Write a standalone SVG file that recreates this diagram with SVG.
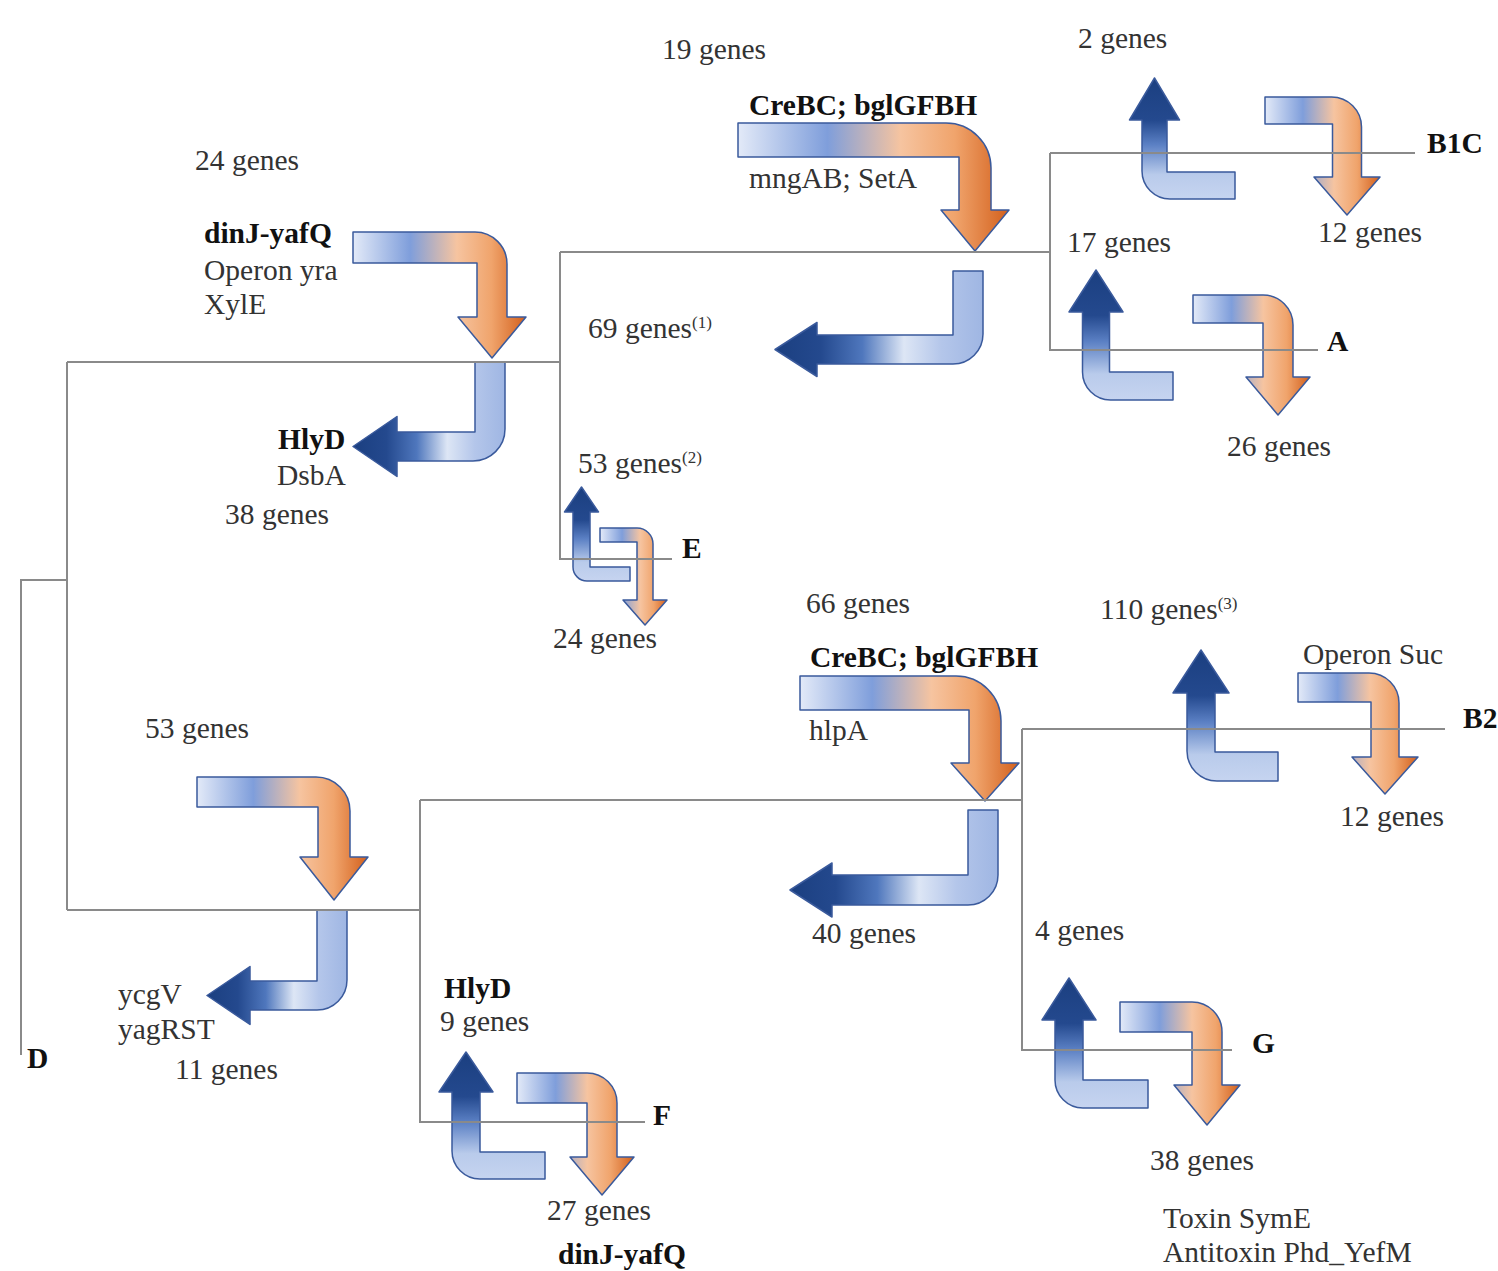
<svg xmlns="http://www.w3.org/2000/svg" width="1498" height="1271" viewBox="0 0 1498 1271">
<defs>
<linearGradient id="gGain" x1="0" y1="0" x2="1" y2="0">
<stop offset="0" stop-color="#e3eaf8"/>
<stop offset="0.33" stop-color="#7f9edb"/>
<stop offset="0.6" stop-color="#f6c4a0"/>
<stop offset="0.8" stop-color="#f0a46c"/>
<stop offset="1" stop-color="#d3601c"/>
</linearGradient>
<linearGradient id="gLoss" x1="0" y1="0" x2="1" y2="0">
<stop offset="0" stop-color="#1b3f80"/>
<stop offset="0.22" stop-color="#24498e"/>
<stop offset="0.42" stop-color="#4f77bd"/>
<stop offset="0.62" stop-color="#dde6f5"/>
<stop offset="0.8" stop-color="#b4c6ea"/>
<stop offset="1" stop-color="#9fb6e3"/>
</linearGradient>
<linearGradient id="gUp" x1="0" y1="0" x2="0" y2="1">
<stop offset="0" stop-color="#1b3f80"/>
<stop offset="0.35" stop-color="#24498e"/>
<stop offset="0.55" stop-color="#5b80c4"/>
<stop offset="0.8" stop-color="#b9cbeb"/>
<stop offset="1" stop-color="#c6d4f0"/>
</linearGradient>
</defs>
<style>
.gain{fill:url(#gGain);stroke:#3a5a9c;stroke-width:1.5;stroke-linejoin:round}
.loss{fill:url(#gLoss);stroke:#3a5a9c;stroke-width:1.5;stroke-linejoin:round}
.up{fill:url(#gUp);stroke:#3a5a9c;stroke-width:1.5;stroke-linejoin:round}
.br{fill:none;stroke:#8a8a8a;stroke-width:2}
text{font-family:"Liberation Serif","Times New Roman",serif;font-size:29.5px;fill:#333}
.b{font-weight:bold;fill:#111}
.sup{font-size:17px}
</style>
<rect width="1498" height="1271" fill="#ffffff"/>

<g id="arrows">
<g id="gain-dinJ"><path class="gain" d="M353 232 H475 A32 32 0 0 1 507 264 V317 H526 L492 358 L458 317 H477 V263 H353 Z"/></g>
<g id="loss-HlyD"><path class="loss" d="M475 362 H505 V429 A32 32 0 0 1 473 461 H397 V476.5 L353 446.5 L397 416.5 V432 H475 Z"/></g>
<g id="gain-CreBC1"><path class="gain" d="M738 123 H946 A45 45 0 0 1 991 168 V210 H1009 L975 251 L941 210 H959 V157 H738 Z"/></g>
<g id="loss-69"><path class="loss" d="M953 271 H983 V334 A30 30 0 0 1 953 364 H817 V376.5 L775 349.5 L817 322.5 V335 H953 Z"/></g>
<g id="up-B1C"><path class="up" d="M1235 172 V199 H1170 A28 28 0 0 1 1142 171 V120 H1129.5 L1154.5 78 L1179.5 120 H1167 V172 Z"/></g>
<g id="gain-B1C"><path class="gain" d="M1265 97 H1331.5 A30 30 0 0 1 1361.5 127 V177 H1380 L1347 215 L1314 177 H1332.5 V124 H1265 Z"/></g>
<g id="up-A"><path class="up" d="M1173 372 V400 H1110.5 A28 28 0 0 1 1082.5 372 V312 H1069 L1096 270 L1123 312 H1109.5 V372 Z"/></g>
<g id="gain-A"><path class="gain" d="M1193 295 H1263 A30 30 0 0 1 1293 325 V377 H1310 L1278 415 L1246 377 H1263 V323 H1193 Z"/></g>
<g id="up-E"><path class="up" d="M630 567 V581 H587 A14 14 0 0 1 573 567 V512 H564.5 L581.5 487 L598.5 512 H590 V567 Z"/></g>
<g id="gain-E"><path class="gain" d="M600 528 H637 A16 16 0 0 1 653 544 V600 H667 L645 625 L623 600 H637 V542 H600 Z"/></g>
<g id="gain-CreBC2"><path class="gain" d="M800 676 H956 A45 45 0 0 1 1001 721 V763 H1019 L985 801 L951 763 H969 V710 H800 Z"/></g>
<g id="loss-40"><path class="loss" d="M968 810 H998 V875 A30 30 0 0 1 968 905 H832 V917 L790 890 L832 863 V875 H968 Z"/></g>
<g id="up-B2"><path class="up" d="M1278 752 V781 H1217 A30 30 0 0 1 1187 751 V693 H1173 L1201 650 L1229 693 H1215 V752 Z"/></g>
<g id="gain-B2"><path class="gain" d="M1298 673 H1369 A30 30 0 0 1 1399 703 V757 H1418 L1385 794 L1352 757 H1371 V702 H1298 Z"/></g>
<g id="gain-53"><path class="gain" d="M197 777 H316 A34 34 0 0 1 350 811 V857 H368 L334 900 L300 857 H318 V807 H197 Z"/></g>
<g id="loss-ycgV"><path class="loss" d="M317 910 H347 V980 A30 30 0 0 1 317 1010 H250 V1024.5 L207 995.5 L250 966.5 V981 H317 Z"/></g>
<g id="up-F"><path class="up" d="M545 1152 V1179 H480 A28 28 0 0 1 452 1151 V1092 H439 L466 1052 L493 1092 H480 V1152 Z"/></g>
<g id="gain-F"><path class="gain" d="M517 1073 H587 A30 30 0 0 1 617 1103 V1157 H634 L602 1195 L570 1157 H587 V1103 H517 Z"/></g>
<g id="up-G"><path class="up" d="M1148 1080 V1108 H1083 A28 28 0 0 1 1055 1080 V1020 H1042 L1069 978 L1096 1020 H1083 V1080 Z"/></g>
<g id="gain-G"><path class="gain" d="M1120 1002 H1192 A30 30 0 0 1 1222 1032 V1085 H1240 L1207 1125 L1174 1085 H1192 V1032 H1120 Z"/></g>
</g>

<g id="connectors">
<path class="br" d="M21 1055 V580 H67"/>
<path class="br" d="M67 362 V910"/>
<path class="br" d="M67 362 H560"/>
<path class="br" d="M560 252 V559 H672"/>
<path class="br" d="M560 252 H1050"/>
<path class="br" d="M1050 153 V350 H1318"/>
<path class="br" d="M1050 153 H1415"/>
<path class="br" d="M67 910 H420"/>
<path class="br" d="M420 800 V1122 H645"/>
<path class="br" d="M420 800 H1022"/>
<path class="br" d="M1022 729 V1050 H1232"/>
<path class="br" d="M1022 729 H1445"/>
</g>

<g id="labels">
<g id="leaf-D"><text class="b" x="27" y="1068">D</text></g>
<g id="leaf-B1C"><text class="b" x="1427" y="153">B1C</text></g>
<g id="leaf-A"><text class="b" x="1327" y="351">A</text></g>
<g id="leaf-E"><text class="b" x="682" y="558">E</text></g>
<g id="leaf-B2"><text class="b" x="1463" y="728">B2</text></g>
<g id="leaf-G"><text class="b" x="1252" y="1053">G</text></g>
<g id="leaf-F"><text class="b" x="653" y="1125">F</text></g>

<text x="662" y="59">19 genes</text>
<text x="1078" y="48">2 genes</text>
<text class="b" x="749" y="115">CreBC; bglGFBH</text>
<text x="749" y="188">mngAB; SetA</text>
<text x="195" y="170">24 genes</text>
<text x="1318" y="242">12 genes</text>
<text x="1067" y="252">17 genes</text>
<text class="b" x="204" y="243">dinJ-yafQ</text>
<text x="204" y="280">Operon yra</text>
<text x="204" y="314">XylE</text>
<text x="588" y="338">69 genes<tspan class="sup" dy="-10">(1)</tspan></text>
<text class="b" x="278" y="449">HlyD</text>
<text x="277" y="485">DsbA</text>
<text x="225" y="524">38 genes</text>
<text x="1227" y="456">26 genes</text>
<text x="578" y="473">53 genes<tspan class="sup" dy="-10">(2)</tspan></text>
<text x="553" y="648">24 genes</text>
<text x="806" y="613">66 genes</text>
<text x="1100" y="619">110 genes<tspan class="sup" dy="-10">(3)</tspan></text>
<text x="1303" y="664">Operon Suc</text>
<text class="b" x="810" y="667">CreBC; bglGFBH</text>
<text x="809" y="740">hlpA</text>
<text x="145" y="738">53 genes</text>
<text x="1340" y="826">12 genes</text>
<text x="812" y="943">40 genes</text>
<text x="1035" y="940">4 genes</text>
<text x="118" y="1004">ycgV</text>
<text x="118" y="1039">yagRST</text>
<text x="175" y="1079">11 genes</text>
<text class="b" x="444" y="998">HlyD</text>
<text x="440" y="1031">9 genes</text>
<text x="1150" y="1170">38 genes</text>
<text x="547" y="1220">27 genes</text>
<text class="b" x="558" y="1264">dinJ-yafQ</text>
<text x="1163" y="1228">Toxin SymE</text>
<text x="1163" y="1262">Antitoxin Phd_YefM</text>
</g>
</svg>
